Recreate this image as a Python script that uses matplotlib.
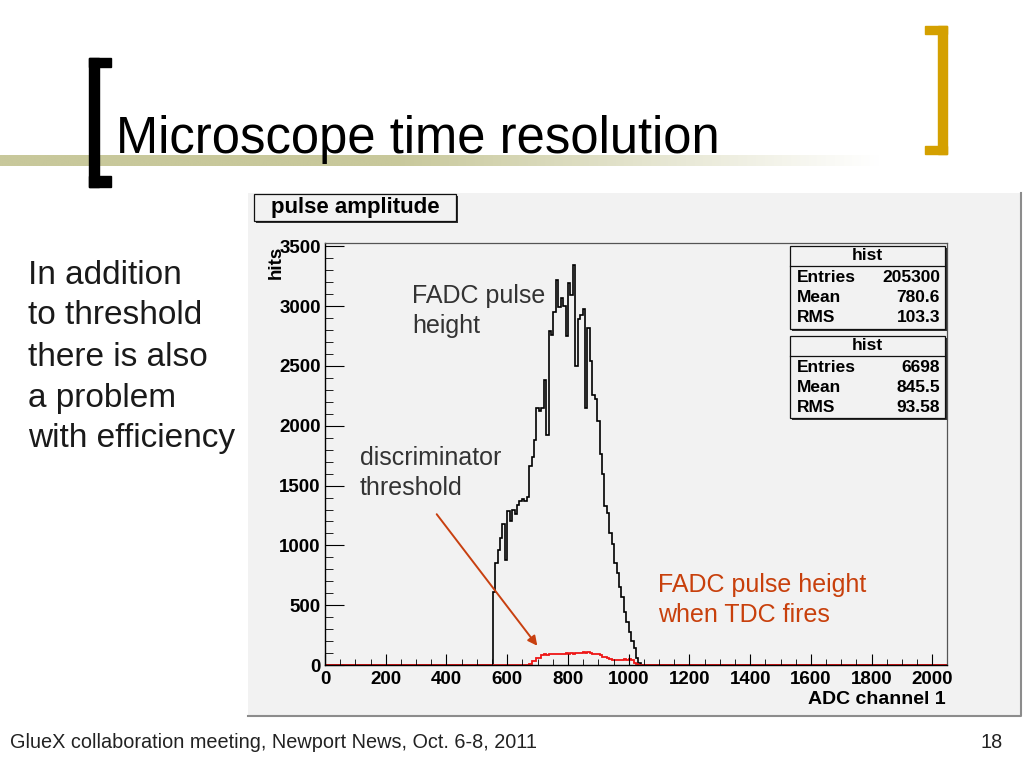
import numpy as np
import matplotlib
matplotlib.use('Agg')
from matplotlib import pyplot as plt
from matplotlib.patches import Rectangle
from matplotlib.ticker import MultipleLocator

plt.rcParams['font.family'] = ['Liberation Sans', 'DejaVu Sans']

# histogram data (bin width 8 ADC channels)
bin_width = 8
n_channels = 2048
black_start = 552
black_counts = [610, 850, 960, 1060, 1180, 880, 1290, 1200, 1300, 1260,
                1340, 1370, 1385, 1375, 1405, 1660, 1740, 1880, 2150, 2120,
                2150, 2380, 1920, 2790, 2760, 2950, 3220, 2990, 3070, 3000,
                2750, 3190, 3090, 3345, 2500, 2890, 2930, 2980, 2150, 2820,
                2540, 2260, 2220, 2040, 1760, 1600, 1330, 1270, 1100, 1010,
                850, 770, 650, 570, 440, 360, 280, 200, 140, 60, 20]
red_start = 672
red_counts = [12, 30, 35, 58, 62, 80, 88, 86, 92, 90, 95, 88, 96, 92, 90,
              97, 94, 100, 96, 104, 98, 102, 110, 100, 106, 98, 92, 90, 90,
              84, 70, 66, 62, 50, 45, 42, 40, 44, 40, 48, 42, 46, 38, 20,
              10, 4]

x_ticks = list(range(0, 2001, 200))
y_ticks = list(range(0, 3501, 500))

stats_black = [('Entries', '205300'), ('Mean', '780.6'), ('RMS', '103.3')]
stats_red = [('Entries', '6698'), ('Mean', '845.5'), ('RMS', '93.58')]

side_text = ['In addition', 'to threshold', 'there is also', 'a problem',
             'with efficiency']

edges = np.arange(0, n_channels + bin_width, bin_width)
h_black = np.zeros(len(edges) - 1)
i0 = black_start // bin_width
h_black[i0:i0 + len(black_counts)] = black_counts
h_red = np.zeros(len(edges) - 1)
i0 = red_start // bin_width
h_red[i0:i0 + len(red_counts)] = red_counts

fig = plt.figure(figsize=(10.24, 7.68), dpi=100)
fig.patch.set_facecolor('white')

# slide decoration, pixel coordinates
bg = fig.add_axes([0, 0, 1, 1])
bg.set_xlim(0, 1024)
bg.set_ylim(768, 0)
bg.axis('off')

grad = np.ones((1, 300, 4))
band = np.array([200, 200, 155]) / 255
t = np.linspace(0, 1, 300)
fade = np.clip((t - 0.45) / 0.55, 0, 1)
for k in range(3):
    grad[0, :, k] = band[k] + (1 - band[k]) * fade
bg.imshow(grad, extent=(0, 880, 166, 155), aspect='auto', zorder=1)

bg.add_patch(Rectangle((89, 58), 10, 129, color='black', zorder=3))
bg.add_patch(Rectangle((89, 58), 22, 9, color='black', zorder=3))
bg.add_patch(Rectangle((89, 176), 22, 11, color='black', zorder=3))
gold = '#d4a000'
bg.add_patch(Rectangle((938, 26), 9, 128, color=gold, zorder=3))
bg.add_patch(Rectangle((925, 26), 22, 8, color=gold, zorder=3))
bg.add_patch(Rectangle((925, 146), 22, 8, color=gold, zorder=3))

bg.text(116, 153, 'Microscope time resolution', fontsize=36.5,
        va='baseline', ha='left', color='black', zorder=4)

for i, line in enumerate(side_text):
    bg.text(28, 275 + i * 41, line, fontsize=24, va='center', ha='left',
            color='#1a1a1a')

bg.text(10, 743, 'GlueX collaboration meeting, Newport News, Oct. 6-8, 2011',
        fontsize=14.3, va='center', ha='left', color='#222222')
bg.text(1003, 743, '18', fontsize=14.3, va='center', ha='right',
        color='#222222')

# ROOT canvas
bg.add_patch(Rectangle((248, 193), 773, 523, facecolor='#f2f2f2',
                       edgecolor='none', zorder=2))
bg.plot([248, 1021, 1021], [716, 716, 193], color='#8c8c8c', lw=1.5,
        zorder=3)

# histogram frame
ax = fig.add_axes([325 / 1024, 1 - 665 / 768, 622 / 1024, 422 / 768])
ax.set_facecolor('#f2f2f2')
ax.stairs(h_black, edges, color='black', lw=1.2)
ax.stairs(h_red, edges, color='#ee1515', lw=1.3)
ax.set_xlim(0, n_channels)
ax.set_ylim(0, 3528)
ax.set_xticks(x_ticks)
ax.set_xticklabels([str(v) for v in x_ticks], fontweight='bold')
ax.set_yticks(y_ticks)
ax.set_yticklabels([str(v) for v in y_ticks], fontweight='bold')
ax.xaxis.set_minor_locator(MultipleLocator(50))
ax.yaxis.set_minor_locator(MultipleLocator(100))
ax.tick_params(axis='both', which='both', direction='in', labelsize=13.5,
               colors='black')
ax.tick_params(axis='y', which='major', length=13.5, pad=3)
ax.tick_params(axis='y', which='minor', length=6)
ax.tick_params(axis='x', which='major', length=8, pad=4)
ax.tick_params(axis='x', which='minor', length=4)
for s in ['top', 'right']:
    ax.spines[s].set_color('#555555')
    ax.spines[s].set_linewidth(0.9)
for s in ['left', 'bottom']:
    ax.spines[s].set_color('black')
    ax.spines[s].set_linewidth(1.0)

# overlay: boxes, labels and annotations
top = fig.add_axes([0, 0, 1, 1])
top.set_xlim(0, 1024)
top.set_ylim(768, 0)
top.axis('off')
top.patch.set_alpha(0)


def root_box(x0, y0, x1, y1):
    top.add_patch(Rectangle((x0 + 2, y0 + 2), x1 - x0, y1 - y0,
                            facecolor='#333333', edgecolor='none'))
    top.add_patch(Rectangle((x0, y0), x1 - x0, y1 - y0, facecolor='#f2f2f2',
                            edgecolor='#111111', lw=0.9))


root_box(254, 194, 456, 221)
top.text(355, 207, 'pulse amplitude', fontsize=16, fontweight='bold',
         ha='center', va='center')

for y0, y1, stats in [(246, 329, stats_black), (336, 418, stats_red)]:
    root_box(790, y0, 945, y1)
    top.plot([790, 945], [y0 + 20, y0 + 20], color='#111111', lw=0.9)
    top.text(867, y0 + 10, 'hist', fontsize=12.5, fontweight='bold',
             ha='center', va='center')
    for j, (name, val) in enumerate(stats):
        yy = y0 + 31 + j * 20.5
        top.text(797, yy, name, fontsize=12.5, fontweight='bold',
                 ha='left', va='center')
        top.text(940, yy, val, fontsize=12.5, fontweight='bold',
                 ha='right', va='center')

top.text(276, 262, 'hits', fontsize=13.5, fontweight='bold', rotation=90,
         ha='center', va='center')
top.text(946, 700, 'ADC channel 1', fontsize=14, fontweight='bold',
         ha='right', va='center')

dark = '#333333'
top.text(412, 296, 'FADC pulse', fontsize=18, color=dark, va='center')
top.text(412, 326, 'height', fontsize=18, color=dark, va='center')
top.text(360, 458, 'discriminator', fontsize=18, color=dark, va='center')
top.text(360, 488, 'threshold', fontsize=18, color=dark, va='center')
orange = '#c8400c'
top.text(658, 585, 'FADC pulse height', fontsize=18, color=orange,
         va='center')
top.text(658, 615, 'when TDC fires', fontsize=18, color=orange, va='center')
top.annotate('', xy=(539, 648), xytext=(435, 512),
             arrowprops=dict(arrowstyle='-|>', color='#c84010', lw=1.4,
                             mutation_scale=14))

fig.savefig('out.png', dpi=100)
